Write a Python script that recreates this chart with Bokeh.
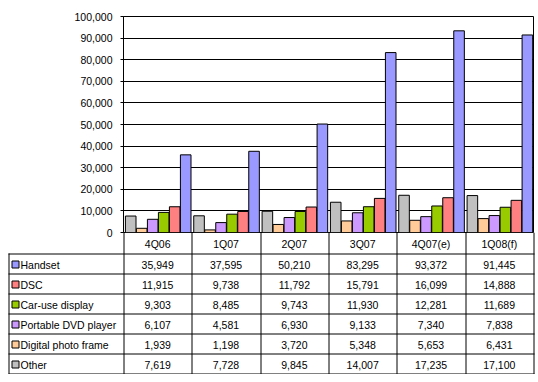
from bokeh.plotting import figure
from bokeh.models import ColumnDataSource, Range1d, NumeralTickFormatter, SingleIntervalTicker
from bokeh.layouts import column
from bokeh.transform import dodge
from bokeh.core.properties import value
from bokeh.embed import file_html
from bokeh.resources import INLINE

categories = ["4Q06", "1Q07", "2Q07", "3Q07", "4Q07(e)", "1Q08(f)"]
handset = [35949, 37595, 50210, 83295, 93372, 91445]
dsc = [11915, 9738, 11792, 15791, 16099, 14888]
car_use = [9303, 8485, 9743, 11930, 12281, 11689]
portable_dvd = [6107, 4581, 6930, 9133, 7340, 7838]
photo_frame = [1939, 1198, 3720, 5348, 5653, 6431]
other = [7619, 7728, 9845, 14007, 17235, 17100]
y_max = 100000
y_step = 10000

# table order (top to bottom)
series_names = ["Handset", "DSC", "Car-use display", "Portable DVD player", "Digital photo frame", "Other"]
series_values = [handset, dsc, car_use, portable_dvd, photo_frame, other]
series_colors = ["#9999FF", "#FF8080", "#99CC00", "#CC99FF", "#FFCC99", "#C0C0C0"]

FONT_NAME = "Liberation Sans"
FONT = value(FONT_NAME)
FS = "10.5px"
W = 538
PAD = 8          # left offset of the table's label column
LEFT = 123
RIGHT_B = 5
TOP_B = 16
BOT_B = 8
PLOT_H = 216
HEADER_H = 21
ROW_H = 20
FRAME_W = W - LEFT - RIGHT_B

ncat = len(categories)
centers = [i + 0.5 for i in range(ncat)]
src = ColumnDataSource(dict(xc=centers, **{f"s{i}": v for i, v in enumerate(series_values)}))

p = figure(x_range=Range1d(0, ncat), y_range=Range1d(0, y_max), title=None,
           width=W, height=TOP_B + PLOT_H + BOT_B,
           output_backend="svg", toolbar_location=None, x_axis_location=None,
           min_border_left=LEFT, min_border_right=RIGHT_B,
           min_border_top=TOP_B, min_border_bottom=BOT_B, frame_align=False)
p.outline_line_color = "black"
p.outline_line_width = 1
p.xgrid.visible = False
p.ygrid.grid_line_color = "black"
p.ygrid.grid_line_width = 1
p.yaxis.ticker = SingleIntervalTicker(interval=y_step)
p.yaxis.formatter = NumeralTickFormatter(format="0,0")
p.yaxis.axis_line_color = "black"
p.yaxis.major_tick_line_color = "black"
p.yaxis.major_tick_out = 3
p.yaxis.major_tick_in = 0
p.yaxis.minor_tick_line_color = None
p.yaxis.major_label_text_font = FONT_NAME
p.yaxis.major_label_text_font_size = FS
p.yaxis.major_label_text_color = "black"
p.yaxis.major_label_standoff = 7

# bar order within each group: reverse of table order
bw = 0.155
step = 0.161
bar_order = list(range(len(series_names)))[::-1]
for j, si in enumerate(bar_order):
    off = (j - 2.5) * step + 0.008
    p.vbar(x=dodge("xc", off), top=f"s{si}", width=bw, source=src,
           fill_color=series_colors[si], line_color="black", line_width=1)

# ---- data table (header row + body), overlapping the chart's bottom border ----
nrow = len(series_names)
TH = HEADER_H + nrow * ROW_H + 1
t = figure(x_range=Range1d(0, W), y_range=Range1d(TH, 0), width=W, height=TH, title=None,
           output_backend="svg", toolbar_location=None, min_border=0,
           x_axis_location=None, y_axis_location=None, frame_align=False,
           margin=(-BOT_B, 0, 0, 0))
t.outline_line_color = None
t.xgrid.visible = False
t.ygrid.visible = False
t.background_fill_alpha = 0
t.border_fill_alpha = 0

colw = FRAME_W / ncat
bottom = HEADER_H + nrow * ROW_H

x0s, y0s, x1s, y1s = [], [], [], []
for r in range(nrow + 1):
    y = HEADER_H + r * ROW_H + 0.5
    x0s.append(PAD); x1s.append(W - RIGHT_B + 1); y0s.append(y); y1s.append(y)
for c in range(ncat + 1):
    x = round(LEFT + c * colw) + 0.5
    x0s.append(x); x1s.append(x); y0s.append(0); y1s.append(bottom + 0.5)
x0s.append(PAD + 0.5); x1s.append(PAD + 0.5); y0s.append(HEADER_H); y1s.append(bottom + 0.5)
t.segment(x0=x0s, y0=y0s, x1=x1s, y1=y1s, line_color="black", line_width=1)

hx = [LEFT + (c + 0.5) * colw for c in range(ncat)]
t.text(x=hx, y=[HEADER_H / 2 + 1] * ncat, text=categories, text_font=FONT, text_font_size=FS,
       text_align="center", text_baseline="middle", text_color="black")

cx, cy, ct = [], [], []
for r, vals in enumerate(series_values):
    for c, v in enumerate(vals):
        cx.append(LEFT + (c + 0.5) * colw)
        cy.append(HEADER_H + (r + 0.5) * ROW_H + 1)
        ct.append(f"{v:,}")
t.text(x=cx, y=cy, text=ct, text_font=FONT, text_font_size=FS,
       text_align="center", text_baseline="middle", text_color="black")

ly = [HEADER_H + (r + 0.5) * ROW_H + 1 for r in range(nrow)]
t.rect(x=[PAD + 7] * nrow, y=ly, width=7, height=7, fill_color=series_colors,
       line_color="black", line_width=1)
t.text(x=[PAD + 12] * nrow, y=ly, text=series_names, text_font=FONT, text_font_size=FS,
       text_align="left", text_baseline="middle", text_color="black")

layout = column(p, t, spacing=0)
open("out.html", "w").write(file_html(layout, INLINE))
